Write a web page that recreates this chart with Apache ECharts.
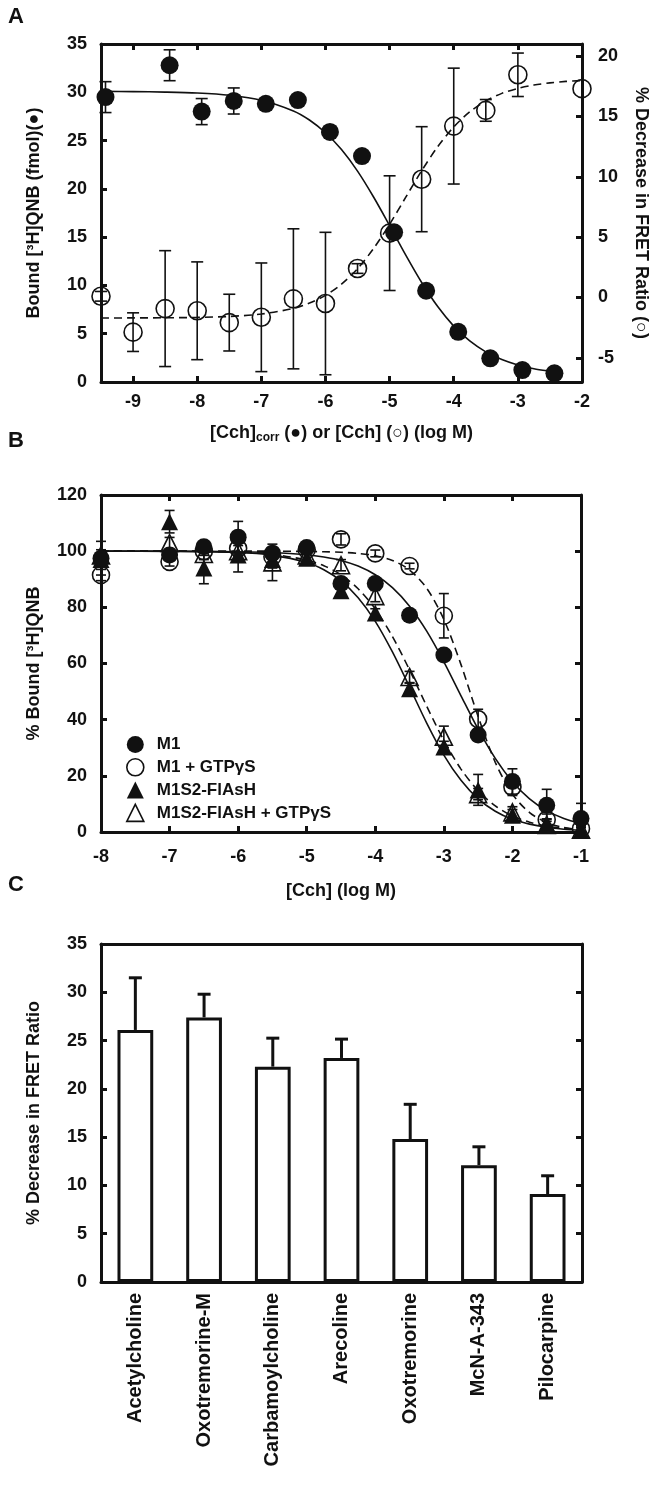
<!DOCTYPE html>
<html><head><meta charset="utf-8">
<script src="https://cdn.jsdelivr.net/npm/echarts@6/dist/echarts.min.js"></script>
<style>html,body{margin:0;padding:0;background:#fff}#c{width:658px;height:1487px}</style>
</head><body><div id="c"></div>
<script>
// ---------- Panel A data ----------
const aFilledX = [-9.43,-8.43,-7.93,-7.43,-6.93,-6.43,-5.93,-5.43,-4.93,-4.43,-3.93,-3.43,-2.93,-2.43];
const aFilledY = [29.5,32.8,28.0,29.1,28.8,29.2,25.9,23.4,15.5,9.45,5.2,2.45,1.24,0.9];
const aFilledErr = [1.6,1.6,1.35,1.35,0,0,0,0,0,0,0,0,0,0];
const aOpenX = [-9.5,-9,-8.5,-8,-7.5,-7,-6.5,-6,-5.5,-5,-4.5,-4,-3.5,-3,-2];
const aOpenY = [0.1,-2.87,-0.92,-1.1,-2.08,-1.64,-0.11,-0.5,2.4,5.33,9.8,14.2,15.5,18.45,17.3];
const aOpenErr = [0.4,1.6,4.8,4.05,2.35,4.5,5.8,5.9,0.4,4.75,4.35,4.8,0.9,1.8,0];
const aFilledFitX = [-9.5,-9,-8.5,-8,-7.5,-7,-6.5,-6.25,-6,-5.75,-5.5,-5.25,-5,-4.75,-4.5,-4.25,-4,-3.75,-3.5,-3.25,-3,-2.75,-2.5,-2.35];
const aFilledFitY = [30.09,30.07,30.02,29.92,29.69,29.18,28.07,27.13,25.81,24.07,21.84,19.16,16.2,13.16,10.3,7.81,5.79,4.25,3.12,2.32,1.76,1.37,1.12,1.0];
const aOpenFitX = [-9.5,-9,-8.5,-8,-7.5,-7,-6.5,-6.25,-6,-5.75,-5.5,-5.25,-5,-4.75,-4.5,-4.25,-4,-3.75,-3.5,-3.25,-3,-2.75,-2.5,-2.25,-2];
const aOpenFitY = [-1.70,-1.69,-1.68,-1.65,-1.57,-1.37,-0.90,-0.46,0.18,1.11,2.38,4.06,6.06,8.29,10.5,12.49,14.13,15.38,16.28,16.91,17.32,17.6,17.78,17.9,17.97];
const aXTicks = [-9,-8,-7,-6,-5,-4,-3,-2];
const aRightTicks = [-5,0,5,10,15,20];

// ---------- Panel B data ----------
const bNames = ['M1','M1 + GTPγS','M1S2-FlAsH','M1S2-FlAsH + GTPγS'];
const bX = [-8,-7,-6.5,-6,-5.5,-5,-4.5,-4,-3.5,-3,-2.5,-2,-1.5,-1];
const bM1 = [97.5,98.6,101.6,105,99.3,101.3,88.5,88.5,77.2,63,34.5,18,9.5,4.8];
const bM1Err = [6,2,2,5.6,2,2,2,1.5,1.5,1.5,2,4.5,5.7,5.4];
const bM1G = [91.5,96.2,100,101,98,100.5,104.2,99.2,94.7,77,40.2,16,4.4,1.2];
const bM1GErr = [2,1.5,1.5,2,2,1.5,2,1.2,1,7.9,3.5,3,2,1];
const bF = [97,110.5,94,98.6,97,97.5,85.9,78,51,30.3,15,6,2.7,0.5];
const bFErr = [2,4,5.6,6,3,2,2,1.5,2,2,5.5,2,2,1];
const bFG = [98.5,102.9,99,100,96,98.5,95,84,55.2,33.9,13.5,7,2.5,0.8];
const bFGErr = [2,2,2,2,6.5,2,2,2,2,3.8,2,2,2,1];
const bFitX = [-8,-7,-6,-5.5,-5,-4.75,-4.5,-4.25,-4,-3.75,-3.5,-3.25,-3,-2.75,-2.5,-2.25,-2,-1.75,-1.5,-1.25,-1];
const bM1Fit = [100,100,99.8,99.5,98.7,97.9,96.7,94.7,91.6,87.0,80.4,71.5,60.6,48.5,36.6,26.2,17.9,11.8,7.6,4.8,3.0];
const bM1GFit = [100,100,100,100,99.9,99.8,99.6,99.2,98.4,96.7,93.3,86.8,75.7,59.6,41.1,24.8,13.5,6.9,3.4,1.6,0.8];
const bFFit = [100,99.9,99.5,98.5,96.0,93.4,89.4,83.4,75.0,64.1,51.6,38.8,27.4,18.4,11.8,7.4,4.5,2.8,1.7,1.0,0.6];
const bFGFit = [100,100,99.6,98.9,96.8,94.8,91.6,86.6,79.4,69.6,57.7,44.8,32.6,22.4,14.7,9.3,5.7,3.5,2.1,1.3,0.8];

// ---------- Panel C data ----------
const cCats = ['Acetylcholine','Oxotremorine-M','Carbamoylcholine','Arecoline','Oxotremorine','McN-A-343','Pilocarpine'];
const cVals = [26.1,27.4,22.3,23.2,14.8,12.1,9.1];
const cErr = [5.4,2.4,2.95,1.95,3.6,1.9,1.9];

const FONT = '"Liberation Sans", Arial, Helvetica, sans-serif';
const TXT = {color:'#111', fontFamily:FONT, fontWeight:'bold', fontSize:18};
const AX = {show:true, onZero:false, lineStyle:{color:'#111', width:3}};
const TICK = (show)=>({show:show, inside:true, length:6, lineStyle:{color:'#111', width:3}});

function pairs(xs, ys){ return xs.map((x,i)=>[x, ys[i]]); }
function triples(xs, ys, es){ return xs.map((x,i)=>[x, ys[i], es[i]]); }

function errRender(capW, lw, upOnly){
  return function(params, api){
    const x = api.value(0), y = api.value(1), e = api.value(2);
    if (!e) return null;
    const t = api.coord([x, y + e]);
    const b = upOnly ? api.coord([x, y]) : api.coord([x, y - e]);
    const st = {stroke:'#111', lineWidth:lw};
    const ch = [
      {type:'line', shape:{x1:t[0], y1:t[1], x2:b[0], y2:b[1]}, style:st},
      {type:'line', shape:{x1:t[0]-capW/2, y1:t[1], x2:t[0]+capW/2, y2:t[1]}, style:st}
    ];
    if (!upOnly) ch.push({type:'line', shape:{x1:b[0]-capW/2, y1:b[1], x2:b[0]+capW/2, y2:b[1]}, style:st});
    return {type:'group', children:ch};
  };
}
function errSeries(xi, yi, data, capW, lw, upOnly){
  return {type:'custom', xAxisIndex:xi, yAxisIndex:yi, data:data, z:2,
    renderItem:errRender(capW, lw, upOnly), encode:{x:0, y:1}, silent:true};
}
function fitLine(xi, yi, data, dashed){
  return {type:'line', xAxisIndex:xi, yAxisIndex:yi, data:data, showSymbol:false, smooth:0.3,
    lineStyle:{color:'#111', width:1.6, type: dashed ? [8,5] : 'solid'}, z:3, silent:true};
}
const OPEN = {color:'rgba(0,0,0,0)', borderColor:'#111', borderWidth:1.6, opacity:1};
const FILLED = {color:'#111', opacity:1};

const grids = [
  {left:101, right:76, top:44, height:338},
  {left:101, right:77, top:495, height:337},
  {left:101, right:76, top:944, height:338}
];

const option = {
  animation:false,
  backgroundColor:'#fff',
  grid: grids,
  graphic:[
    {type:'text', left:8, top:6, style:{text:'A', font:'bold 22px '+FONT, fill:'#111'}},
    {type:'text', left:8, top:430, style:{text:'B', font:'bold 22px '+FONT, fill:'#111'}},
    {type:'text', left:8, top:874, style:{text:'C', font:'bold 22px '+FONT, fill:'#111'}}
  ],
  legend:{
    orient:'vertical', left:121, top:731, itemWidth:17, itemHeight:17, itemGap:5,
    textStyle:Object.assign({}, TXT, {fontSize:17, padding:[0,0,0,8]}),
    data:[
      {name:bNames[0], icon:'circle', itemStyle:FILLED},
      {name:bNames[1], icon:'circle', itemStyle:OPEN},
      {name:bNames[2], icon:'triangle', itemStyle:FILLED},
      {name:bNames[3], icon:'triangle', itemStyle:OPEN}
    ]
  },
  xAxis:[
    {gridIndex:0, type:'value', min:-9.5, max:-2, position:'bottom', axisLine:AX, splitLine:{show:false},
     axisTick:Object.assign(TICK(true), {customValues:aXTicks}),
     axisLabel:Object.assign({}, TXT, {margin:11, customValues:aXTicks}),
     name:'[Cch]{s|corr} (●) or [Cch] (○) (log M)', nameLocation:'middle', nameGap:41,
     nameTextStyle:Object.assign({}, TXT, {rich:{s:{fontFamily:FONT, fontWeight:'bold', fontSize:12, color:'#111', padding:[9,0,0,0]}}})},
    {gridIndex:0, type:'value', min:-9.5, max:-2, position:'top', axisLine:AX, splitLine:{show:false},
     axisTick:Object.assign(TICK(true), {customValues:aXTicks}), axisLabel:{show:false}},
    {gridIndex:1, type:'value', min:-8, max:-1, interval:1, position:'bottom', axisLine:AX, splitLine:{show:false},
     axisTick:TICK(true), axisLabel:Object.assign({}, TXT, {margin:16}),
     name:'[Cch] (log M)', nameLocation:'middle', nameGap:50, nameTextStyle:TXT},
    {gridIndex:1, type:'value', min:-8, max:-1, interval:1, position:'top', axisLine:AX, splitLine:{show:false},
     axisTick:TICK(true), axisLabel:{show:false}},
    {gridIndex:2, type:'category', data:cCats, position:'bottom', axisLine:AX, splitLine:{show:false},
     axisTick:{show:false}, axisLabel:Object.assign({}, TXT, {fontSize:20, rotate:90, margin:11, interval:0})},
    {gridIndex:2, type:'category', data:cCats, position:'top', axisLine:AX, splitLine:{show:false},
     axisTick:{show:false}, axisLabel:{show:false}}
  ],
  yAxis:[
    {gridIndex:0, type:'value', min:0, max:35, interval:5, position:'left', axisLine:AX, splitLine:{show:false},
     axisTick:TICK(true), axisLabel:Object.assign({}, TXT, {margin:14}),
     name:'Bound [³H]QNB (fmol)(●)', nameLocation:'middle', nameRotate:90, nameGap:58, nameTextStyle:TXT},
    {gridIndex:0, type:'value', min:-7, max:21, position:'right', axisLine:AX, splitLine:{show:false},
     axisTick:Object.assign(TICK(true), {customValues:aRightTicks}),
     axisLabel:Object.assign({}, TXT, {margin:16, customValues:aRightTicks}),
     name:'% Decrease in FRET Ratio (○)', nameLocation:'middle', nameRotate:-90, nameGap:50, nameTextStyle:TXT},
    {gridIndex:1, type:'value', min:0, max:120, interval:20, position:'left', axisLine:AX, splitLine:{show:false},
     axisTick:TICK(true), axisLabel:Object.assign({}, TXT, {margin:14}),
     name:'% Bound [³H]QNB', nameLocation:'middle', nameRotate:90, nameGap:58, nameTextStyle:TXT},
    {gridIndex:1, type:'value', min:0, max:120, interval:20, position:'right', axisLine:AX, splitLine:{show:false},
     axisTick:TICK(true), axisLabel:{show:false}},
    {gridIndex:2, type:'value', min:0, max:35, interval:5, position:'left', axisLine:AX, splitLine:{show:false},
     axisTick:TICK(true), axisLabel:Object.assign({}, TXT, {margin:14}),
     name:'% Decrease in FRET Ratio', nameLocation:'middle', nameRotate:90, nameGap:58, nameTextStyle:TXT},
    {gridIndex:2, type:'value', min:0, max:35, interval:5, position:'right', axisLine:AX, splitLine:{show:false},
     axisTick:TICK(true), axisLabel:{show:false}}
  ],
  series:[
    // Panel A
    fitLine(0, 0, pairs(aFilledFitX, aFilledFitY), false),
    fitLine(0, 1, pairs(aOpenFitX, aOpenFitY), true),
    errSeries(0, 0, triples(aFilledX, aFilledY, aFilledErr), 12, 1.6, false),
    errSeries(0, 1, triples(aOpenX, aOpenY, aOpenErr), 12, 1.6, false),
    {type:'scatter', xAxisIndex:0, yAxisIndex:1, data:pairs(aOpenX, aOpenY), symbol:'circle', symbolSize:18, itemStyle:OPEN, z:4},
    {type:'scatter', xAxisIndex:0, yAxisIndex:0, data:pairs(aFilledX, aFilledY), symbol:'circle', symbolSize:18, itemStyle:FILLED, z:5},
    // Panel B
    fitLine(2, 2, pairs(bFitX, bM1Fit), false),
    fitLine(2, 2, pairs(bFitX, bM1GFit), true),
    fitLine(2, 2, pairs(bFitX, bFFit), false),
    fitLine(2, 2, pairs(bFitX, bFGFit), true),
    errSeries(2, 2, triples(bX, bM1, bM1Err), 10, 1.6, false),
    errSeries(2, 2, triples(bX, bM1G, bM1GErr), 10, 1.6, false),
    errSeries(2, 2, triples(bX, bF, bFErr), 10, 1.6, false),
    errSeries(2, 2, triples(bX, bFG, bFGErr), 10, 1.6, false),
    {name:bNames[1], type:'scatter', xAxisIndex:2, yAxisIndex:2, data:pairs(bX, bM1G), symbol:'circle', symbolSize:17, itemStyle:OPEN, z:4},
    {name:bNames[3], type:'scatter', xAxisIndex:2, yAxisIndex:2, data:pairs(bX, bFG), symbol:'triangle', symbolSize:17, itemStyle:OPEN, z:4},
    {name:bNames[2], type:'scatter', xAxisIndex:2, yAxisIndex:2, data:pairs(bX, bF), symbol:'triangle', symbolSize:17, itemStyle:FILLED, z:5},
    {name:bNames[0], type:'scatter', xAxisIndex:2, yAxisIndex:2, data:pairs(bX, bM1), symbol:'circle', symbolSize:17, itemStyle:FILLED, z:5},
    // Panel C
    {type:'bar', xAxisIndex:4, yAxisIndex:4, data:cVals, barWidth:'52%',
     itemStyle:{color:'#fff', borderColor:'#111', borderWidth:3}, z:3},
    errSeries(4, 4, cVals.map((v,i)=>[i, v, cErr[i]]), 13, 3, true)
  ]
};
const chart = echarts.init(document.getElementById('c'), null, {renderer:'canvas'});
chart.setOption(option);
</script></body></html>
